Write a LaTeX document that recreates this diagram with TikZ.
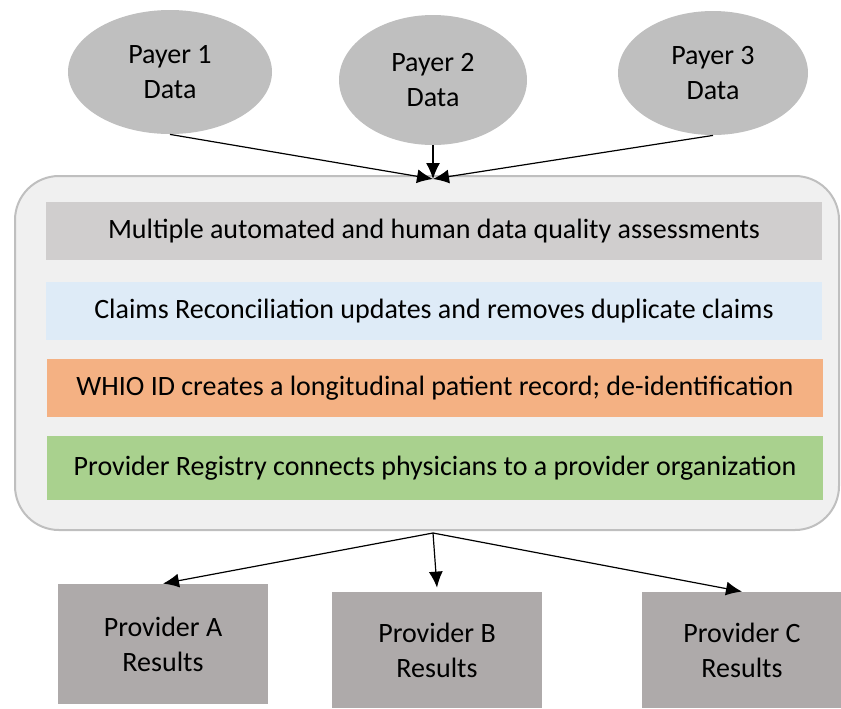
\documentclass[tikz,border=0pt]{standalone}
\usepackage{fontspec}
\setmainfont{Carlito}
\usetikzlibrary{calc}
\usetikzlibrary{arrows.meta}
\usetikzlibrary{shapes.geometric}
\definecolor{payergray}{HTML}{BFBFBF}
\definecolor{hubfill}{HTML}{F0F0F0}
\definecolor{hubline}{HTML}{BFBFBF}
\definecolor{qualgray}{HTML}{D0CECE}
\definecolor{claimblue}{HTML}{DEEBF7}
\definecolor{whioorange}{HTML}{F4B183}
\definecolor{reggreen}{HTML}{A9D18E}
\definecolor{resgray}{HTML}{AEAAAA}

\begin{document}
\begin{tikzpicture}[x=0.5pt,y=-0.5pt,>={Latex[length=8pt,width=7pt]},
    font=\fontsize{14}{17.5}\selectfont,
    payer/.style={ellipse, fill=payergray, align=center, minimum width=102pt, minimum height=62pt, inner sep=0pt},
    stage/.style={rectangle, minimum width=388pt, minimum height=29pt, inner sep=0pt},
    result/.style={rectangle, fill=resgray, align=center, minimum width=105pt, minimum height=60pt, inner sep=0pt},
    link/.style={->, line width=0.6pt}]
    \useasboundingbox (0,0) rectangle (841,708);
    % payers
    \node (p1) [payer] at (170,72) {Payer 1\\Data};
    \node (p2) [payer, minimum width=94pt, minimum height=65pt] at (433,80) {Payer 2\\Data};
    \node (p3) [payer, minimum width=95pt] at (713,73) {Payer 3\\Data};
    % processing block
    \node (hub) [rectangle, rounded corners=22pt, fill=hubfill, draw=hubline, line width=1pt, minimum width=412pt, minimum height=177pt] at (427,353) {};
    \node (qual) [stage, fill=qualgray] at (434,231) {Multiple automated and human data quality assessments};
    \node (claim) [stage, fill=claimblue] at (434,311) {Claims Reconciliation updates and removes duplicate claims};
    \node (whio) [stage, fill=whioorange] at (435,388) {WHIO ID creates a longitudinal patient record; de-identification};
    \node (reg) [stage, fill=reggreen, minimum height=32pt] at (435,468) {Provider Registry connects physicians to a provider organization};
    \coordinate (merge) at (433,179);
    \coordinate (split) at (433,533);
    % results
    \node (ra) [result] at (163,644) {Provider A\\Results};
    \node (rb) [result, minimum height=58pt] at (437,650) {Provider B\\Results};
    \node (rc) [result, minimum width=100pt, minimum height=58pt] at (742,650) {Provider C\\Results};
    \draw [link] (p1.south) -- (merge);
    \draw [link] (p2.south) -- (merge);
    \draw [link] (p3.south) -- (merge);
    \draw [link] (split) -- (ra.north);
    \draw [link] (split) -- ($(rb.north)+(0,-4)$);
    \draw [link] (split) -- (rc.north);
\end{tikzpicture}
\end{document}
